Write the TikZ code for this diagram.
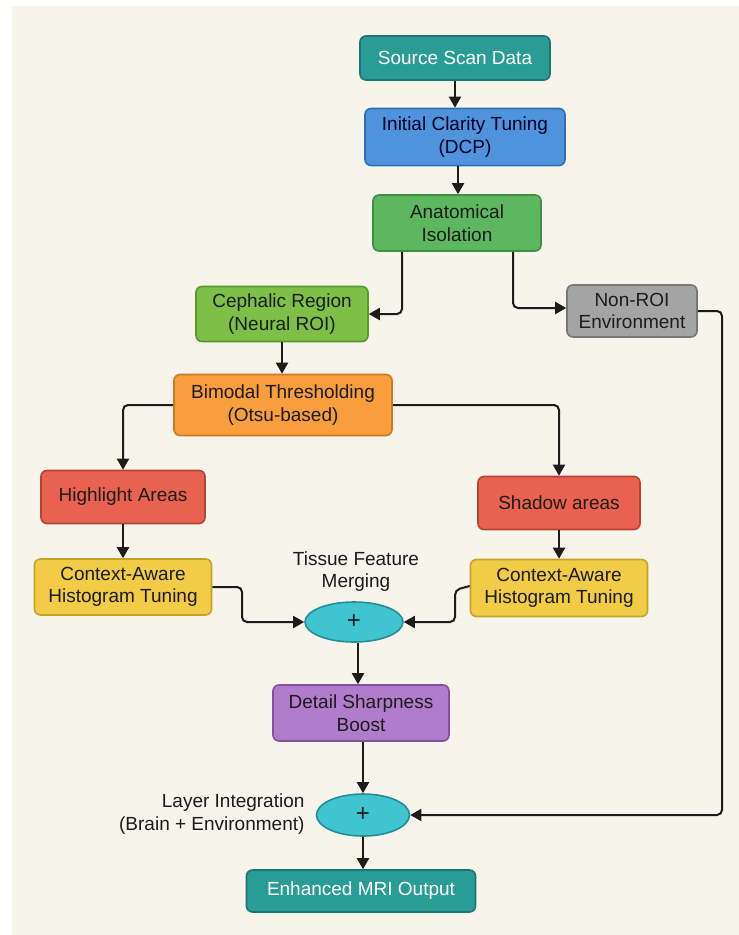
\documentclass[tikz,border=0pt]{standalone}
\usepackage{fontspec}
\setmainfont{Liberation Sans}
\usetikzlibrary{arrows.meta,shapes.geometric}
\definecolor{bgc}{HTML}{F7F4EC}
\definecolor{tealf}{HTML}{2A9C96}\definecolor{teald}{HTML}{1E7470}
\definecolor{bluef}{HTML}{4E93DC}\definecolor{blued}{HTML}{306FB3}
\definecolor{greenf}{HTML}{5DB760}\definecolor{greend}{HTML}{3D9140}
\definecolor{limef}{HTML}{7DBF47}\definecolor{limed}{HTML}{5A982E}
\definecolor{grayf}{HTML}{A4A4A4}\definecolor{grayd}{HTML}{777777}
\definecolor{orangef}{HTML}{F89E3C}\definecolor{oranged}{HTML}{CD7A22}
\definecolor{redf}{HTML}{E8624F}\definecolor{redd}{HTML}{B44434}
\definecolor{yellowf}{HTML}{F2CB47}\definecolor{yellowd}{HTML}{C6A222}
\definecolor{purplef}{HTML}{B17CCB}\definecolor{purpled}{HTML}{83509C}
\definecolor{cyanf}{HTML}{40C4CF}\definecolor{cyand}{HTML}{228E97}
\definecolor{txt}{HTML}{1C1C1C}
\tikzset{
  box/.style={draw, rounded corners=6pt, line width=1.6pt, align=center,
    font=\fontsize{19}{22.5}\selectfont, text=txt, inner sep=0pt},
  sumnode/.style={ellipse, draw=cyand, fill=cyanf, line width=1.6pt,
    font=\fontsize{24}{24}\selectfont, text=txt, inner sep=0pt},
  lbl/.style={font=\fontsize{19}{22.5}\selectfont, text=txt, align=center},
  arr/.style={-{Triangle[length=11pt,width=12pt]}, line width=2pt, draw=txt, rounded corners=5pt},
}
\begin{document}
\begin{tikzpicture}[x=1pt,y=-1pt]
\fill[white] (0,0) rectangle (739,935);
\fill[bgc] (12,6) rectangle (739,935);
\useasboundingbox (0,0) rectangle (739,935);

\node[box, draw=teald, fill=tealf, text=white, minimum width=190pt, minimum height=44pt] (src) at (455,58) {Source Scan Data};
\node[box, draw=blued, fill=bluef, text={black!85!blue}, minimum width=200pt, minimum height=57pt] (dcp) at (465,137) {Initial Clarity Tuning\\(DCP)};
\node[box, draw=greend, fill=greenf, minimum width=168pt, minimum height=56pt] (ana) at (457,223) {Anatomical\\Isolation};
\node[box, draw=limed, fill=limef, minimum width=172pt, minimum height=55pt] (ceph) at (282,314) {Cephalic Region\\(Neural ROI)};
\node[box, draw=grayd, fill=grayf, minimum width=130pt, minimum height=52pt] (env) at (632,311) {Non-ROI\\Environment};
\node[box, draw=oranged, fill=orangef, minimum width=218pt, minimum height=61pt] (otsu) at (283,405) {Bimodal Thresholding\\(Otsu-based)};
\node[box, draw=redd, fill=redf, minimum width=164pt, minimum height=53pt] (hi) at (123,497) {Highlight Areas};
\node[box, draw=redd, fill=redf, minimum width=162pt, minimum height=53pt] (sh) at (559,503) {Shadow areas};
\node[box, draw=yellowd, fill=yellowf, minimum width=177pt, minimum height=56pt] (ctxl) at (123,587) {Context-Aware\\Histogram Tuning};
\node[box, draw=yellowd, fill=yellowf, minimum width=177pt, minimum height=57pt] (ctxr) at (559,588) {Context-Aware\\Histogram Tuning};
\node[sumnode, minimum width=98pt, minimum height=40pt] (m1) at (354,622) {+};
\node[lbl, anchor=south] (m1l) at (356,595) {Tissue Feature\\Merging};
\node[box, draw=purpled, fill=purplef, minimum width=176pt, minimum height=56pt] (det) at (361,713) {Detail Sharpness\\Boost};
\node[sumnode, minimum width=93pt, minimum height=42pt] (m2) at (363,815) {+};
\node[lbl, anchor=east, align=right] (m2l) at (308,814) {Layer Integration\\(Brain + Environment)};
\node[box, draw=teald, fill=tealf, text=white, minimum width=229pt, minimum height=42pt] (out) at (361,891) {Enhanced MRI Output};

\draw[arr] (src.south) -- (src.south |- dcp.north);
\draw[arr] ([xshift=-7pt]dcp.south) -- ([xshift=-7pt]dcp.south |- ana.north);
\draw[arr] ([xshift=-55pt]ana.south) |- (ceph.east);
\draw[arr] ([xshift=56pt]ana.south) |- ([yshift=3pt]env.west);
\draw[arr] (env.east) -| (722,560) |- (m2.east);
\draw[arr] (ceph.south) -- (ceph.south |- otsu.north);
\draw[arr] (otsu.west) -| (hi.north);
\draw[arr] (otsu.east) -| (sh.north);
\draw[arr] (hi.south) -- (ctxl.north);
\draw[arr] (sh.south) -- (ctxr.north);
\draw[arr] (ctxl.east) -- (242,587) |- (m1.west);
\draw[arr] ([yshift=2pt]ctxr.west) -- (455,590) |- (m1.east);
\draw[arr] ([xshift=4pt]m1.south) -- ([xshift=4pt]m1.south |- det.north);
\draw[arr] ([xshift=2pt]det.south) -- ([xshift=2pt]det.south |- m2.north);
\draw[arr] (m2.south) -- (m2.south |- out.north);
\end{tikzpicture}
\end{document}
